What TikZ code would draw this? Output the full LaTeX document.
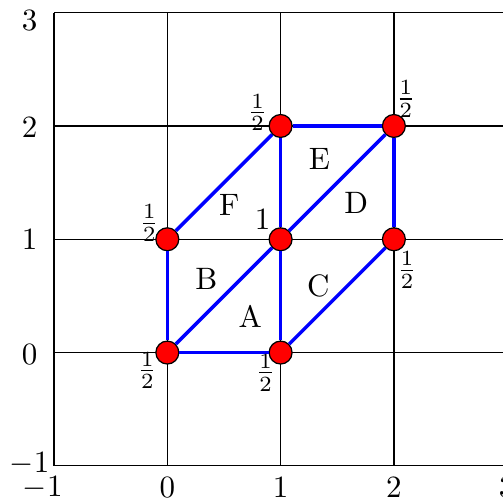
\documentclass[tikz,border=0pt]{standalone}
\begin{document}
\begin{tikzpicture}[x=1.285cm,y=1.285cm,
  vtx/.style={circle,fill=red,draw=black,thin,minimum size=0.26cm,inner sep=0pt},
  edgeline/.style={blue,line width=1.1pt},
  gridline/.style={black,thin},
  lab/.style={inner sep=0pt},
  axlab/.style={inner sep=0pt}]
\useasboundingbox (-1.477,-1.300) rectangle (2.963,3.112);
\foreach \t in {-1,0,1,2,3} {
  \draw[gridline] (\t,-1) -- (\t,3);
  \draw[gridline] (-1,\t) -- (3,\t);
}
% axis labels
\node[axlab] (ym1) at (-1.216,-0.980) {$-1$};
\node[axlab] (y0) at (-1.216,-0.015) {$0$};
\node[axlab] (y1) at (-1.216,0.995) {$1$};
\node[axlab] (y2) at (-1.216,1.985) {$2$};
\node[axlab] (y3) at (-1.216,2.935) {$3$};
\node[axlab] (xm1) at (-1.10,-1.19) {$-1$};
\node[axlab] (x0) at (0,-1.19) {$0$};
\node[axlab] (x1) at (1,-1.19) {$1$};
\node[axlab] (x2) at (2,-1.19) {$2$};
\node[axlab] (x3) at (2.995,-1.19) {$3$};
% vertices
\node[vtx] (v00) at (0,0) {};
\node[vtx] (v10) at (1,0) {};
\node[vtx] (v01) at (0,1) {};
\node[vtx] (v11) at (1,1) {};
\node[vtx] (v21) at (2,1) {};
\node[vtx] (v12) at (1,2) {};
\node[vtx] (v22) at (2,2) {};
% edges
\draw[edgeline] (v00) -- (v10);
\draw[edgeline] (v00) -- (v01);
\draw[edgeline] (v00) -- (v11);
\draw[edgeline] (v10) -- (v11);
\draw[edgeline] (v10) -- (v21);
\draw[edgeline] (v01) -- (v12);
\draw[edgeline] (v11) -- (v12);
\draw[edgeline] (v11) -- (v22);
\draw[edgeline] (v12) -- (v22);
\draw[edgeline] (v21) -- (v22);
% vertex labels
\node[lab] (l00) at ([shift={(-0.177,-0.159)}]v00.center) {$\frac{1}{2}$};
\node[lab] (l10) at ([shift={(-0.132,-0.177)}]v10.center) {$\frac{1}{2}$};
\node[lab] (l01) at ([shift={(-0.159,0.141)}]v01.center) {$\frac{1}{2}$};
\node[lab] (l11) at ([shift={(-0.159,0.172)}]v11.center) {$1$};
\node[lab] (l12) at ([shift={(-0.203,0.119)}]v12.center) {$\frac{1}{2}$};
\node[lab] (l22) at ([shift={(0.106,0.238)}]v22.center) {$\frac{1}{2}$};
\node[lab] (l21) at ([shift={(0.115,-0.274)}]v21.center) {$\frac{1}{2}$};
% region labels
\node[lab] (rA) at (0.733,0.318) {A};
\node[lab] (rB) at (0.344,0.653) {B};
\node[lab] (rC) at (1.333,0.591) {C};
\node[lab] (rD) at (1.668,1.320) {D};
\node[lab] (rE) at (1.342,1.712) {E};
\node[lab] (rF) at (0.547,1.302) {F};
\end{tikzpicture}
\end{document}
